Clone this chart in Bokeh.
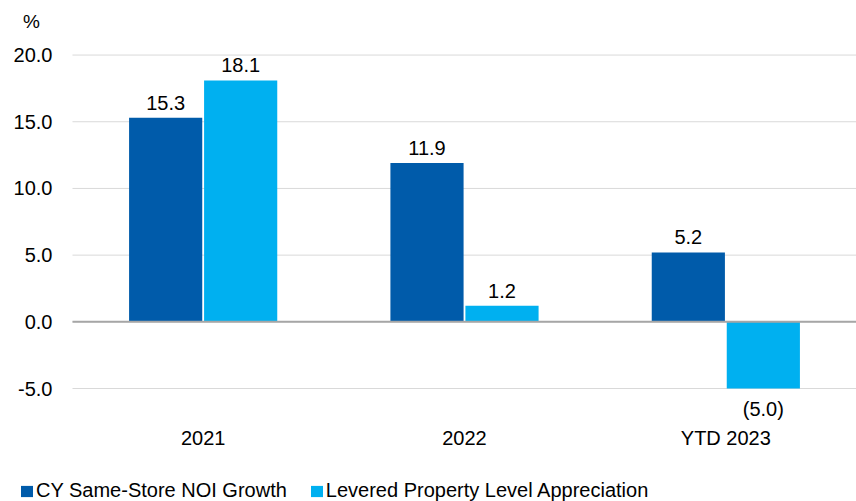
from bokeh.plotting import figure
from bokeh.models import (ColumnDataSource, Range1d, LabelSet, Label, Legend, LegendItem, Grid)
from bokeh.core.properties import value
from bokeh.embed import file_html
from bokeh.resources import INLINE

# Data
periods = ["2021", "2022", "YTD 2023"]
noi_growth = [15.3, 11.9, 5.2]
appreciation = [18.1, 1.2, -5.0]
series_names = ["CY Same-Store NOI Growth", "Levered Property Level Appreciation"]
y_ticks = [-5, 0, 5, 10, 15, 20]
unit_label = "%"

DARK = "#005BAA"
LIGHT = "#00B0F0"
GRID = "#D9D9D9"
ZERO = "#A6A6A6"
FONT_NAME = "Liberation Sans"
FONT = value(FONT_NAME)
TXT = "#000000"
FS = "20px"


def fmt(v):
    return f"({abs(v):.1f})" if v < 0 else f"{v:.1f}"


# category slots sit at 0.5, 1.5, 2.5 on a numeric axis; the range is widened to
# leave room on the left for the value scale, the unit and the legend
centers = [i + 0.5 for i in range(len(periods))]
OFF = 0.1435
W = 0.28
X_LO, X_HI = -0.2755, float(len(periods))
Y_LO, Y_HI = -13.47, 24.09

src = ColumnDataSource(dict(
    period=periods,
    xc=centers,
    x_noi=[c - OFF for c in centers],
    x_app=[c + OFF for c in centers],
    noi=noi_growth,
    app=appreciation,
))

p = figure(width=856, height=501, x_range=Range1d(X_LO, X_HI), y_range=Range1d(Y_LO, Y_HI),
           output_backend="svg", toolbar_location=None, title=None,
           x_axis_location=None, y_axis_location=None, min_border=0)
p.outline_line_color = None
p.background_fill_color = "white"
p.border_fill_color = "white"
# no automatic grids: the value gridlines are drawn below over the category span only
p.renderers = [r for r in p.renderers if not isinstance(r, Grid)]
p.center = [c for c in p.center if not isinstance(c, Grid)]

# horizontal gridlines across the category area
grid_src = ColumnDataSource(dict(
    y=y_ticks,
    x0=[0.0] * len(y_ticks),
    x1=[X_HI] * len(y_ticks),
    lbl=[f"{t:.1f}" for t in y_ticks],
    xl=[0.0] * len(y_ticks),
))
p.segment(x0="x0", y0="y", x1="x1", y1="y", source=grid_src, line_color=GRID, line_width=1)

r1 = p.vbar(x="x_noi", top="noi", bottom=0, width=W, source=src,
            fill_color=DARK, line_color=None)
r2 = p.vbar(x="x_app", top="app", bottom=0, width=W, source=src,
            fill_color=LIGHT, line_color=None)

# zero baseline
p.segment(x0=[0.0], y0=[0.0], x1=[X_HI], y1=[0.0], line_color=ZERO, line_width=2)

# value scale labels
p.add_layout(LabelSet(x="xl", y="y", text="lbl", source=grid_src, x_offset=-20,
                      text_align="right", text_baseline="middle", text_font=FONT,
                      text_font_size=FS, text_color=TXT))

# unit label above the scale
p.add_layout(Label(x=0.0, y=max(y_ticks), x_offset=-41, y_offset=34, text=unit_label,
                   text_align="center", text_baseline="middle", text_font=FONT_NAME,
                   text_font_size="19px", text_color=TXT))

# category labels under the lowest gridline
cat_src = ColumnDataSource(dict(x=centers, y=[min(y_ticks)] * len(periods), t=periods))
p.add_layout(LabelSet(x="x", y="y", text="t", source=cat_src, y_offset=-49,
                      text_align="center", text_baseline="middle", text_font=FONT,
                      text_font_size=FS, text_color=TXT))

# value labels: above positive bars, beneath negative ones
for xkey, key in (("x_noi", "noi"), ("x_app", "app")):
    xs, vals = src.data[xkey], src.data[key]
    pos = dict(x=[x for x, v in zip(xs, vals) if v >= 0],
               y=[v for v in vals if v >= 0],
               t=[fmt(v) for v in vals if v >= 0])
    neg = dict(x=[x for x, v in zip(xs, vals) if v < 0],
               y=[v for v in vals if v < 0],
               t=[fmt(v) for v in vals if v < 0])
    if pos["y"]:
        p.add_layout(LabelSet(x="x", y="y", text="t", source=ColumnDataSource(pos),
                              text_align="center", text_baseline="alphabetic", y_offset=8,
                              text_font=FONT, text_font_size=FS, text_color=TXT))
    if neg["y"]:
        p.add_layout(LabelSet(x="x", y="y", text="t", source=ColumnDataSource(neg),
                              text_align="center", text_baseline="top", y_offset=-9,
                              text_font=FONT, text_font_size=FS, text_color=TXT))

legend = Legend(items=[LegendItem(label=series_names[0], renderers=[r1]),
                       LegendItem(label=series_names[1], renderers=[r2])],
                orientation="horizontal", location=(19, -1),
                glyph_width=15, glyph_height=14, label_standoff=2, spacing=22,
                label_height=20, padding=0, margin=0, border_line_color=None,
                background_fill_alpha=0, label_text_font=FONT_NAME,
                label_text_font_size=FS, label_text_color=TXT)
p.add_layout(legend, "center")

open("out.html", "w").write(file_html(p, INLINE))
